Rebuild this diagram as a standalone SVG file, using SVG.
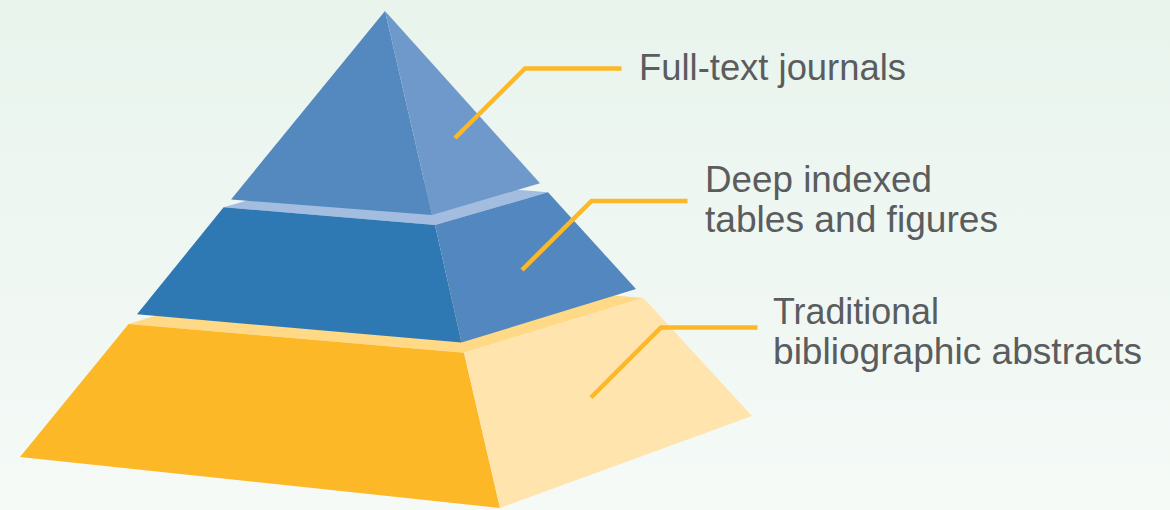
<svg xmlns="http://www.w3.org/2000/svg" width="1170" height="510" viewBox="0 0 1170 510">
  <defs>
    <linearGradient id="bg" x1="0" y1="0" x2="0" y2="1">
      <stop offset="0" stop-color="#E9F4ED"/>
      <stop offset="1" stop-color="#F5FAF7"/>
    </linearGradient>
    <style>
      .lbl { font-family: "Liberation Sans", Arial, sans-serif; font-size: 36.5px; fill: #5A5C5E; }
      .conn { fill: none; stroke: #FDB827; stroke-width: 4.5; stroke-linejoin: miter; stroke-linecap: butt; }
    </style>
  </defs>
  <rect x="0" y="0" width="1170" height="510" fill="url(#bg)"/>

  <g id="tier-bottom">
    <polygon points="128.6,324 464,352.7 643.6,298 308.2,269.3" fill="#FFD985"/>
    <polygon points="128.6,324 464,352.7 500,508 20,457" fill="#FDB827"/>
    <polygon points="464,352.7 643.6,298 752,416 500,508" fill="#FFE4AE"/>
  </g>

  <g id="tier-middle">
    <polygon points="223.6,207.3 435,225 548,192.3 336.6,174.6" fill="#A3BDE0"/>
    <polygon points="223.6,207.3 435,225 461.5,342.5 137,314.3" fill="#2E79B4"/>
    <polygon points="435,225 548,192.3 636,289 461.5,342.5" fill="#5288BF"/>
  </g>

  <g id="tier-top">
    <polygon points="385,11 231,199.5 432,215" fill="#5389BE"/>
    <polygon points="385,11 432,215 540,183.3" fill="#6F99CA"/>
  </g>

  <g id="connectors">
    <polyline class="conn" points="455,138 525,68.5 621.5,68.5"/>
    <polyline class="conn" points="522,270 591.5,201 687.5,201"/>
    <polyline class="conn" points="591,397.5 661,327.5 757.5,327.5"/>
  </g>

  <g id="label-full-text">
    <text class="lbl" x="639" y="80" textLength="267" lengthAdjust="spacingAndGlyphs">Full-text journals</text>
  </g>
  <g id="label-deep-indexed">
    <text class="lbl" x="705" y="192" textLength="227" lengthAdjust="spacingAndGlyphs">Deep indexed</text>
    <text class="lbl" x="705" y="232" textLength="293" lengthAdjust="spacingAndGlyphs">tables and figures</text>
  </g>
  <g id="label-traditional">
    <text class="lbl" x="773" y="324" textLength="166" lengthAdjust="spacingAndGlyphs">Traditional</text>
    <text class="lbl" x="773" y="364" textLength="369" lengthAdjust="spacingAndGlyphs">bibliographic abstracts</text>
  </g>
</svg>
